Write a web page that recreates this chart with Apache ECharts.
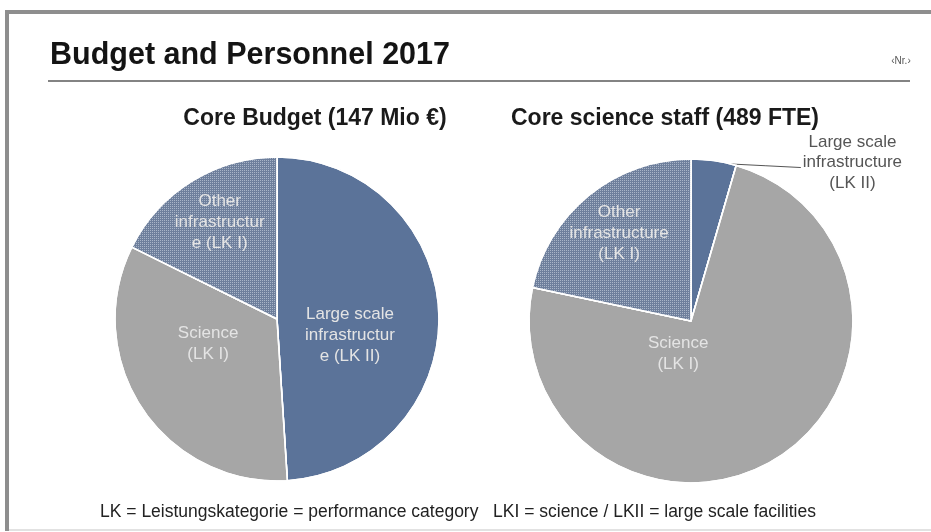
<!DOCTYPE html>
<html>
<head>
<meta charset="utf-8">
<script src="https://cdn.jsdelivr.net/npm/echarts@6/dist/echarts.min.js"></script>
<style>
  html, body { margin: 0; padding: 0; background: #ffffff; }
  #chart { width: 931px; height: 532px; }
</style>
</head>
<body>
<div id="chart"></div>
<script>
// ---- Data ----
var pageTitle = 'Budget and Personnel 2017';
var pageNumber = '\u2039Nr.\u203A';
var footnote = 'LK = Leistungskategorie = performance category   LKI = science / LKII = large scale facilities';

var budgetTitle = 'Core Budget (147 Mio \u20AC)';
var budgetNames = ['Large scale infrastructure (LK II)', 'Science (LK I)', 'Other infrastructure (LK I)'];
var budgetLabels = ['Large scale\ninfrastructur\ne (LK II)', 'Science\n(LK I)', 'Other\ninfrastructur\ne (LK I)'];
var budgetValues = [72, 49, 26];          // Mio EUR (sum 147)

var staffTitle = 'Core science staff (489 FTE)';
var staffNames = ['Large scale infrastructure (LK II)', 'Science (LK I)', 'Other infrastructure (LK I)'];
var staffLabels = ['Large scale\ninfrastructure\n(LK II)', 'Science\n(LK I)', 'Other\ninfrastructure\n(LK I)'];
var staffValues = [22, 361, 106];         // FTE (sum 489)

// ---- Styles ----
var sliceColors = ['#5b7399', '#a6a6a6', '#6e7f9c'];
var otherDecal = { symbol: 'rect', symbolSize: 1, dashArrayX: [1, 1], dashArrayY: [1, 1], color: '#a9b5c8', rotation: 0 };
var noDecal = { symbol: 'rect', symbolSize: 1, dashArrayX: [1, 1], dashArrayY: [1, 1], color: 'rgba(0,0,0,0)', rotation: 0 };
var budgetShift = [[-11, 19], [1, -22], [-13, -25]];
var staffShift = [[0, 0], [-56, -39], [-19, -22]];
var PIE_R = 162;
var FONT = '"Liberation Sans", Arial, Helvetica, sans-serif';

function makeData(names, values, labels, outsideFirst) {
  return names.map(function (n, i) {
    var item = {
      name: n,
      value: values[i],
      labelText: labels[i],
      itemStyle: { color: sliceColors[i], decal: i === 2 ? otherDecal : noDecal }
    };
    if (outsideFirst && i === 0) {
      item.label = { position: 'outside', color: '#555555', fontSize: 17, lineHeight: 20.5 };
      item.labelLine = { show: true, length: 0.1, length2: 84, lineStyle: { color: '#555555', width: 1 } };
    }
    return item;
  });
}

var chart = echarts.init(document.getElementById('chart'), null, { renderer: 'canvas' });

function pieSeries(center, names, values, labels, shift, outsideFirst) {
  var total = values.reduce(function (a, b) { return a + b; }, 0);
  return {
    type: 'pie',
    center: center,
    radius: PIE_R,
    startAngle: 90,
    clockwise: true,
    silent: true,
    animation: false,
    avoidLabelOverlap: false,
    itemStyle: { borderColor: '#ffffff', borderWidth: 1.5 },
    label: {
      show: true,
      position: 'inside',
      formatter: function (p) { return p.data.labelText; },
      color: '#e4e4e4',
      fontFamily: FONT,
      fontSize: 17,
      lineHeight: 21,
      align: 'center'
    },
    labelLine: { show: false },
    labelLayout: function (params) {
      var idx = params.dataIndex;
      if (outsideFirst && idx === 0) {
        var r = params.labelRect;
        // anchor the leader line near the trailing edge of the slice
        var a = (values[0] / total) * 2 * Math.PI * 0.88;
        var sx = center[0] + PIE_R * Math.sin(a);
        var sy = center[1] - PIE_R * Math.cos(a);
        var endX = r.x - 2;
        var cy = r.y + r.height / 2 + 2;
        return {
          x: r.x + r.width / 2,
          y: cy,
          align: 'center',
          verticalAlign: 'middle',
          labelLinePoints: [[sx, sy], [(sx + endX) / 2, (sy + cy + 5) / 2], [endX, cy + 5]]
        };
      }
      return { dx: shift[idx][0], dy: shift[idx][1] };
    },
    data: makeData(names, values, labels, outsideFirst)
  };
}

var option = {
  backgroundColor: '#ffffff',
  animation: false,
  aria: { enabled: true, decal: { show: true } },
  graphic: [
    // frame
    { type: 'rect', shape: { x: 5, y: 10, width: 926, height: 4 }, style: { fill: '#8e8e8e' }, silent: true },
    { type: 'rect', shape: { x: 5, y: 10, width: 4, height: 521 }, style: { fill: '#8e8e8e' }, silent: true },
    { type: 'rect', shape: { x: 9, y: 529, width: 922, height: 2 }, style: { fill: '#e2e2e2' }, silent: true },
    // title rule
    { type: 'line', shape: { x1: 48, y1: 81, x2: 910, y2: 81 }, style: { stroke: '#5a5a5a', lineWidth: 1.5 }, silent: true },
    // texts
    { type: 'text', x: 50, y: 56, silent: true,
      style: { text: pageTitle, font: 'bold 30.5px ' + FONT, fill: '#141414', align: 'left', verticalAlign: 'middle' } },
    { type: 'text', x: 901, y: 61, silent: true,
      style: { text: pageNumber, font: '10px ' + FONT, fill: '#555555', align: 'center', verticalAlign: 'middle' } },
    { type: 'text', x: 315, y: 119, silent: true,
      style: { text: budgetTitle, font: 'bold 23px ' + FONT, fill: '#1a1a1a', align: 'center', verticalAlign: 'middle' } },
    { type: 'text', x: 665, y: 119, silent: true,
      style: { text: staffTitle, font: 'bold 23px ' + FONT, fill: '#1a1a1a', align: 'center', verticalAlign: 'middle' } },
    { type: 'text', x: 458, y: 512, silent: true,
      style: { text: footnote, font: '17.5px ' + FONT, fill: '#222222', align: 'center', verticalAlign: 'middle' } }
  ],
  series: [
    pieSeries([277, 319], budgetNames, budgetValues, budgetLabels, budgetShift, false),
    pieSeries([691, 321], staffNames, staffValues, staffLabels, staffShift, true)
  ]
};

chart.setOption(option);
</script>
</body>
</html>
